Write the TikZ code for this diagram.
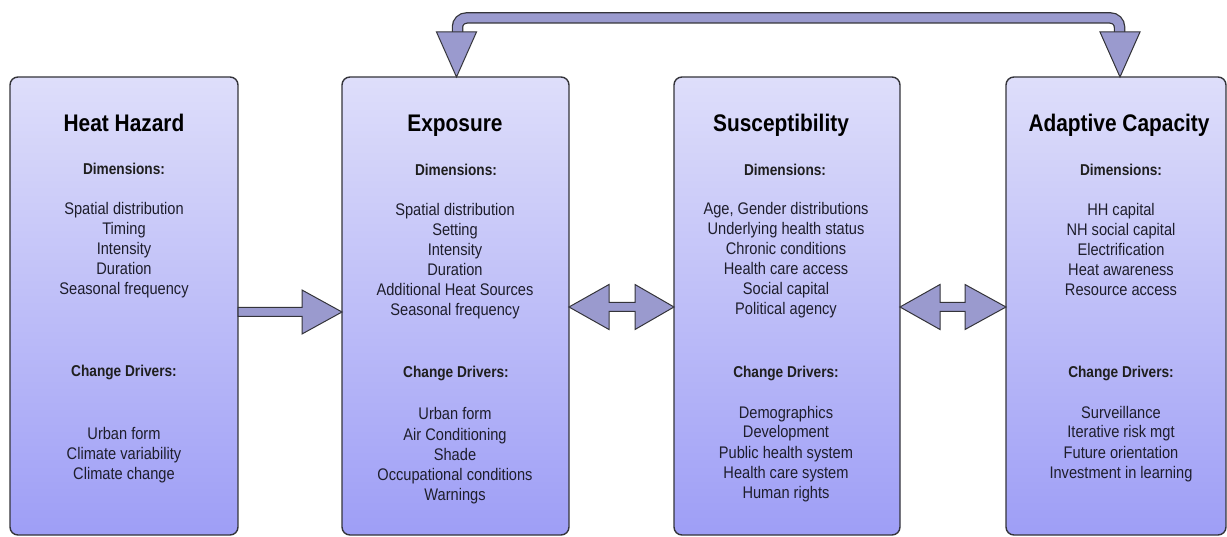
\documentclass[tikz,border=0pt]{standalone}
\usepackage{fontspec}
\usetikzlibrary{calc}
\newfontfamily\condfont{Liberation Sans}[FakeStretch=0.87]
\definecolor{boxtop}{RGB}{222,222,250}
\definecolor{boxbot}{RGB}{158,158,246}
\definecolor{arrfill}{RGB}{154,154,206}
\definecolor{edge}{RGB}{52,52,58}
\definecolor{itemtext}{RGB}{30,30,44}
\newcommand{\boxlines}[4]{%
  \foreach \t [count=\i from 0] in {#4} \node[itemtxt] (#1\i) at (#2,#3+20*\i) {\t};}
\begin{document}
\begin{tikzpicture}[x=1pt,y=-1pt,
  hbox/.style={draw=edge,line width=1.4pt,rounded corners=8pt,top color=boxtop,bottom color=boxbot,
     minimum height=458pt,inner sep=0pt,outer sep=0pt},
  titletxt/.style={font=\condfont\bfseries\fontsize{24}{28}\selectfont,anchor=base,inner sep=0pt,text=black},
  headtxt/.style={font=\condfont\bfseries\fontsize{15.7}{18}\selectfont,anchor=base,inner sep=0pt,text=black!88},
  itemtxt/.style={font=\condfont\fontsize{16.8}{20}\selectfont,anchor=base,inner sep=0pt,text=itemtext},
  arrowshape/.style={draw=edge,line width=1pt,fill=arrfill,line join=miter}]
\useasboundingbox (0,0) rectangle (1227,537);

% boxes
\node[hbox,minimum width=228pt] (b1) at (124,306) {};
\node[hbox,minimum width=227pt] (b2) at (455.5,306) {};
\node[hbox,minimum width=226pt] (b3) at (787,306) {};
\node[hbox,minimum width=220pt] (b4) at (1116,306) {};

% Heat Hazard
\node[titletxt] (t1) at (124,132) {Heat Hazard};
\node[headtxt] (h1a) at (124,175) {Dimensions:};
\boxlines{b1d}{124}{215}{Spatial distribution, Timing, Intensity, Duration, Seasonal frequency}
\node[headtxt] (h1b) at (124,377) {Change Drivers:};
\boxlines{b1c}{124}{439}{Urban form, Climate variability, Climate change}

% Exposure
\node[titletxt] (t2) at (455,132) {Exposure};
\node[headtxt] (h2a) at (456,176) {Dimensions:};
\boxlines{b2d}{455}{216}{Spatial distribution, Setting, Intensity, Duration, Additional Heat Sources, Seasonal frequency}
\node[headtxt] (h2b) at (456,378) {Change Drivers:};
\boxlines{b2c}{455}{420}{Urban form, Air Conditioning, Shade, Occupational conditions, Warnings}

% Susceptibility
\node[titletxt] (t3) at (781,132) {Susceptibility};
\node[headtxt] (h3a) at (785,176) {Dimensions:};
\boxlines{b3d}{786}{215}{{Age, Gender distributions}, Underlying health status, Chronic conditions, Health care access, Social capital, Political agency}
\node[headtxt] (h3b) at (786,378) {Change Drivers:};
\boxlines{b3c}{786}{418}{Demographics, Development, Public health system, Health care system, Human rights}

% Adaptive Capacity
\node[titletxt] (t4) at (1119,132) {Adaptive Capacity};
\node[headtxt] (h4a) at (1121,176) {Dimensions:};
\boxlines{b4d}{1121}{216}{HH capital, NH social capital, Electrification, Heat awareness, Resource access}
\node[headtxt] (h4b) at (1121,378) {Change Drivers:};
\boxlines{b4c}{1121}{418}{Surveillance, Iterative risk mgt, Future orientation, Investment in learning}

% arrow Heat Hazard -> Exposure
\coordinate (a1s) at ($(b1.east)+(0,6)$);
\coordinate (a1e) at ($(b2.west)+(0,6)$);
\draw[arrowshape] ($(a1s)+(0,-4.5)$) -- ($(a1e)+(-40,-4.5)$) -- ($(a1e)+(-40,-22)$) -- (a1e)
  -- ($(a1e)+(-40,22)$) -- ($(a1e)+(-40,4.5)$) -- ($(a1s)+(0,4.5)$) -- cycle;

% double arrow Exposure <-> Susceptibility
\coordinate (d1l) at ($(b2.east)+(0,1)$);
\coordinate (d1r) at ($(b3.west)+(0,1)$);
\draw[arrowshape] (d1l) -- ($(d1l)+(40,-22.5)$) -- ($(d1l)+(40,-4.5)$) -- ($(d1r)+(-39,-4.5)$)
  -- ($(d1r)+(-39,-22.5)$) -- (d1r) -- ($(d1r)+(-39,22.5)$) -- ($(d1r)+(-39,4.5)$)
  -- ($(d1l)+(40,4.5)$) -- ($(d1l)+(40,22.5)$) -- cycle;

% double arrow Susceptibility <-> Adaptive Capacity
\coordinate (d2l) at ($(b3.east)+(0,1)$);
\coordinate (d2r) at ($(b4.west)+(0,1)$);
\draw[arrowshape] (d2l) -- ($(d2l)+(40,-22.5)$) -- ($(d2l)+(40,-4.5)$) -- ($(d2r)+(-41,-4.5)$)
  -- ($(d2r)+(-41,-22.5)$) -- (d2r) -- ($(d2r)+(-41,22.5)$) -- ($(d2r)+(-41,4.5)$)
  -- ($(d2l)+(40,4.5)$) -- ($(d2l)+(40,22.5)$) -- cycle;

% feedback arrow Adaptive Capacity <-> Exposure (top)
\coordinate (tl) at ($(b2.north)+(1,0)$);
\coordinate (tr) at ($(b4.north)+(4,0)$);
\draw[edge,line width=11.5pt,rounded corners=9pt] ($(tl)+(1,-43)$) -- ($(tl)+(1,-59)$) -- ($(tr)+(-0.5,-59)$) -- ($(tr)+(-0.5,-43)$);
\draw[arrfill,line width=9pt,rounded corners=9pt] ($(tl)+(1,-43)$) -- ($(tl)+(1,-59)$) -- ($(tr)+(-0.5,-59)$) -- ($(tr)+(-0.5,-43)$);
\draw[arrowshape] (tl) -- ($(tl)+(-20,-45)$) -- ($(tl)+(20,-45)$) -- cycle;
\draw[arrowshape] (tr) -- ($(tr)+(-20,-45)$) -- ($(tr)+(20,-45)$) -- cycle;
\end{tikzpicture}
\end{document}
